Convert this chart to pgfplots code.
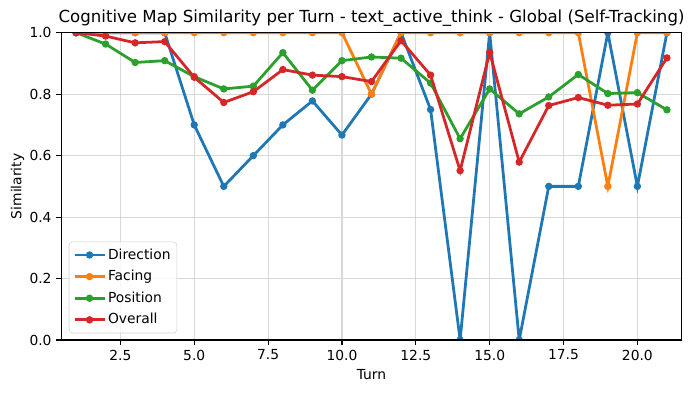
\documentclass[border=0pt]{standalone}
\usepackage{pgfplots}
\pgfplotsset{compat=1.18}
\usepackage{fontspec}
\setmainfont{DejaVu Sans}
\definecolor{c0}{HTML}{1F77B4}
\definecolor{c1}{HTML}{FF7F0E}
\definecolor{c2}{HTML}{2CA02C}
\definecolor{c3}{HTML}{D62728}
\pgfplotstableread{
t dir fac pos ovr
1 1.0 1.0 1.0 1.0
2 1.0 1.0 0.963 0.989
3 1.0 1.0 0.903 0.967
4 1.0 1.0 0.909 0.971
5 0.7 1.0 0.857 0.855
6 0.5 1.0 0.817 0.773
7 0.6 1.0 0.826 0.808
8 0.7 1.0 0.935 0.880
9 0.778 1.0 0.813 0.862
10 0.667 1.0 0.909 0.857
11 0.8 0.8 0.921 0.841
12 1.0 1.0 0.917 0.974
13 0.75 1.0 0.836 0.862
14 0.0 1.0 0.655 0.551
15 1.0 1.0 0.817 0.936
16 0.0 1.0 0.736 0.579
17 0.5 1.0 0.791 0.763
18 0.5 1.0 0.864 0.789
19 1.0 0.5 0.802 0.764
20 0.5 1.0 0.805 0.768
21 1.0 1.0 0.749 0.918
}\data
\begin{document}
\begin{tikzpicture}
\begin{axis}[
  scale only axis,
  width=446.7bp, height=221.3bp,
  xmin=0.5, xmax=21.5, ymin=0, ymax=1,
  xtick={2.5,5,7.5,10,12.5,15,17.5,20},
  xticklabels={2.5,5.0,7.5,10.0,12.5,15.0,17.5,20.0},
  ytick={0,0.2,0.4,0.6,0.8,1.0},
  yticklabels={0.0,0.2,0.4,0.6,0.8,1.0},
  /pgf/number format/assume math mode=true,
  tick label style={font=\fontsize{10}{12}\selectfont},
  label style={font=\fontsize{10}{12}\selectfont},
  ylabel style={yshift=-3bp},
  title style={font=\fontsize{12}{14}\selectfont, yshift=-5bp},
  title={Cognitive Map Similarity per Turn - text\_active\_think - Global (Self-Tracking)},
  xlabel={Turn}, ylabel={Similarity},
  tick align=outside, tickpos=left,
  major tick length=3.5bp,
  every tick/.style={black, line width=0.8bp},
  axis line style={line width=0.8bp},
  grid=major,
  major grid style={line width=0.8bp, gray!30},
  clip marker paths=true,
  legend style={font=\fontsize{10}{12}\selectfont, draw=gray!35, rounded corners=2.5bp, fill=white, fill opacity=0.8, text opacity=1, draw opacity=1, at={(0.012,0.022)}, anchor=south west, inner xsep=3bp, inner ysep=3bp, row sep=2.6bp, nodes={inner sep=1.5bp, text depth=0.2em, text height=0.8em}},
  legend cell align=left,
  legend image code/.code={\draw[#1] (0bp,0bp) -- (21.6bp,0bp); \draw[#1, mark repeat=1] plot coordinates {(10.8bp,0bp)};},
  every axis plot/.append style={line width=2bp, mark=*, mark size=1.6bp},
]
\addplot[c0, mark options={fill=c0, draw=c0}] table[x=t, y=dir] {\data};
\addlegendentry{Direction}
\addplot[c1, mark options={fill=c1, draw=c1}] table[x=t, y=fac] {\data};
\addlegendentry{Facing}
\addplot[c2, mark options={fill=c2, draw=c2}] table[x=t, y=pos] {\data};
\addlegendentry{Position}
\addplot[c3, mark options={fill=c3, draw=c3}] table[x=t, y=ovr] {\data};
\addlegendentry{Overall}
\draw[line width=0.8bp, black] (rel axis cs:0,0) rectangle (rel axis cs:1,1);
\end{axis}
\pgfresetboundingbox
\path[use as bounding box] (-44.14bp,-38.16bp) rectangle (455.56bp,244.84bp);
\end{tikzpicture}
\end{document}
